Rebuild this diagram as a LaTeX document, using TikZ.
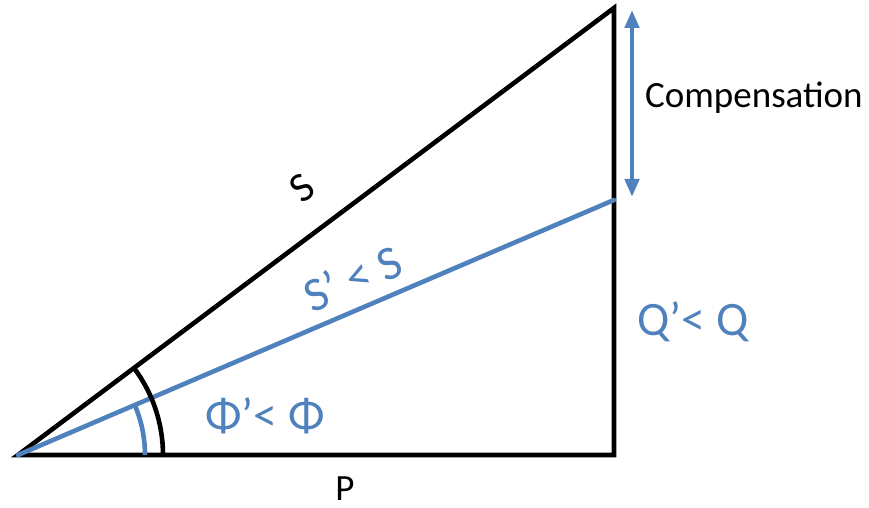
\documentclass[tikz,border=0pt]{standalone}
\usepackage{fontspec}
\setmainfont{Carlito}
\usetikzlibrary{arrows.meta, calc}
\definecolor{compblue}{HTML}{4F81BD}

\begin{document}
\begin{tikzpicture}[x=1pt, y=1pt,
    side/.style={line width=4.6pt},
    newside/.style={line width=4.6pt, draw=compblue},
    biglabel/.style={font=\fontsize{48}{52}\selectfont, text=compblue, inner sep=0pt},
    smalllabel/.style={font=\fontsize{37}{40}\selectfont, inner sep=0pt}]
  \useasboundingbox (0,0) rectangle (869,508);
  % triangle corners
  \coordinate (origin) at (18,53);
  \coordinate (base) at (614,53);
  \coordinate (top) at (614,500);
  \coordinate (newtop) at (614,308);
  \coordinate (comptop) at (632,498);
  \coordinate (compbot) at (632,311);

  \draw[side, line join=miter] (origin) -- (base) -- (top) -- cycle;
  \draw[newside, line cap=round] (origin) -- (newtop);

  % angles
  \draw[side] ($(origin)+(145,0)$) arc[start angle=0, end angle=36.87, radius=145];
  \draw[newside] ($(origin)+(127,0)$) arc[start angle=0, end angle=23.16, radius=127];

  % compensation arrow
  \draw[newside, {Triangle[length=18pt,width=14pt]}-{Triangle[length=18pt,width=14pt]}] (comptop) -- (compbot);

  \node[smalllabel, anchor=west] (comp) at (645,410) {Compensation};
  \node[smalllabel, font=\fontsize{42}{44}\selectfont, rotate=37] (slabel) at (302,320) {S};
  \node[biglabel, rotate=23] (snew) at (353,230) {S’ < S};
  \node[biglabel] (qnew) at (693,186) {Q’< Q};
  \node[biglabel] (phinew) at (265,92) {Φ’< Φ};
  \node[smalllabel] (plabel) at (345,19) {P};
\end{tikzpicture}
\end{document}
